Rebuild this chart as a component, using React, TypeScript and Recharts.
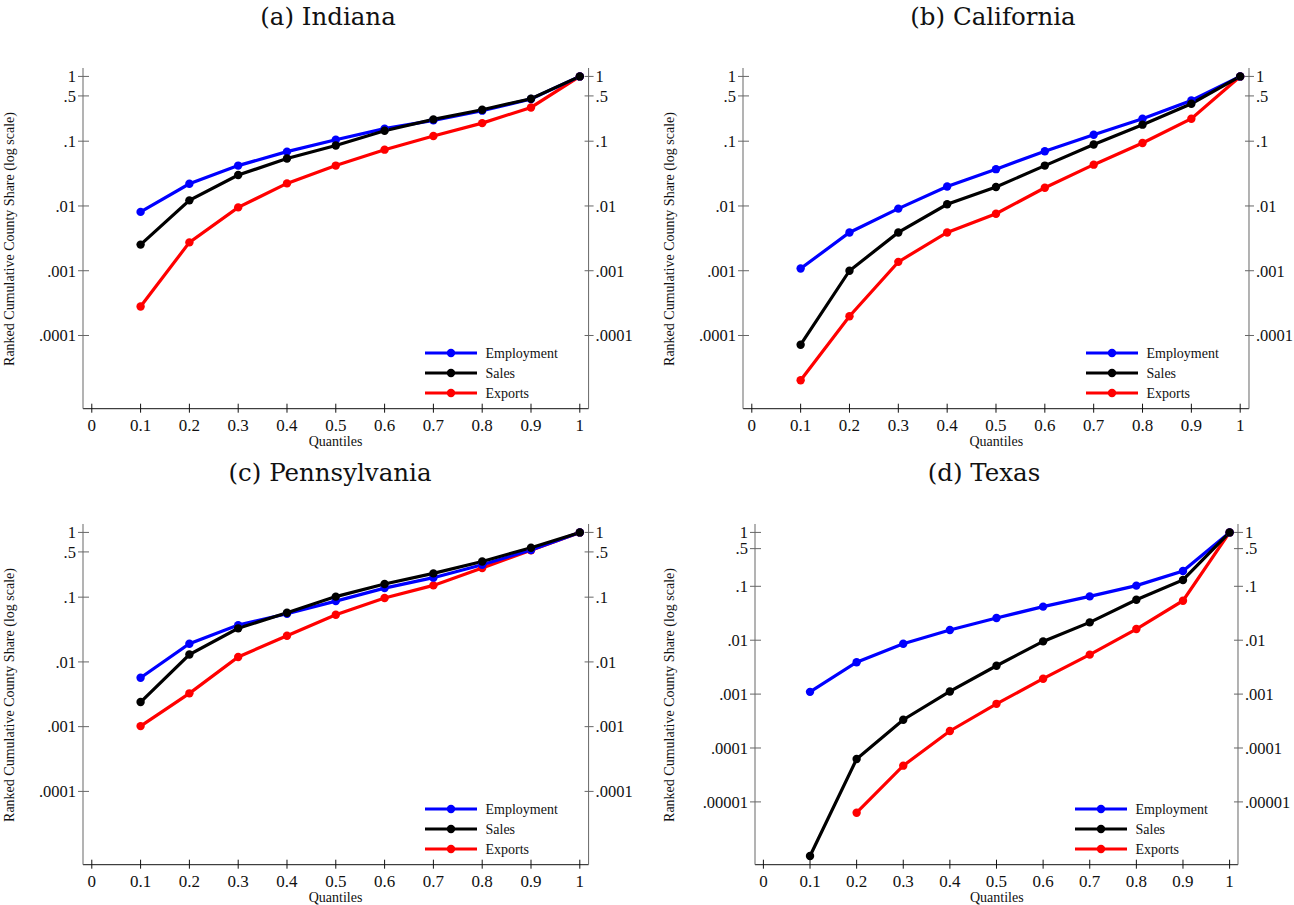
import React from "react";
import { LineChart, Line, XAxis, YAxis, Legend } from "recharts";

// quantile positions and axis ticks
const QUANTILES = [0.1, 0.2, 0.3, 0.4, 0.5, 0.6, 0.7, 0.8, 0.9, 1];
const X_TICKS = [0, 0.1, 0.2, 0.3, 0.4, 0.5, 0.6, 0.7, 0.8, 0.9, 1];
const X_TICK_LABELS = ["0", "0.1", "0.2", "0.3", "0.4", "0.5", "0.6", "0.7", "0.8", "0.9", "1"];
const Y_TICKS = [1, 0.5, 0.1, 0.01, 0.001, 0.0001];
const Y_TICK_LABELS = ["1", ".5", ".1", ".01", ".001", ".0001"];
const Y_TICKS_TX = [1, 0.5, 0.1, 0.01, 0.001, 0.0001, 0.00001];
const Y_TICK_LABELS_TX = ["1", ".5", ".1", ".01", ".001", ".0001", ".00001"];

// (a) Indiana
const IN_EMPLOYMENT = [0.0081, 0.022, 0.042, 0.069, 0.105, 0.156, 0.21, 0.296, 0.448, 1];
const IN_SALES = [0.00253, 0.0122, 0.03, 0.054, 0.086, 0.145, 0.217, 0.306, 0.453, 1];
const IN_EXPORTS = [0.00028, 0.00274, 0.0095, 0.0223, 0.042, 0.074, 0.12, 0.19, 0.332, 1];

// (b) California
const CA_EMPLOYMENT = [0.00108, 0.0039, 0.0091, 0.02, 0.037, 0.07, 0.126, 0.222, 0.426, 1];
const CA_SALES = [0.000072, 0.001, 0.0039, 0.0106, 0.0196, 0.042, 0.089, 0.18, 0.379, 1];
const CA_EXPORTS = [0.0000204, 0.000198, 0.00137, 0.0039, 0.0076, 0.0191, 0.0434, 0.094, 0.222, 1];

// (c) Pennsylvania
const PA_EMPLOYMENT = [0.0057, 0.0191, 0.037, 0.0555, 0.087, 0.138, 0.2, 0.317, 0.535, 1];
const PA_SALES = [0.0024, 0.013, 0.033, 0.0575, 0.102, 0.16, 0.233, 0.356, 0.58, 1];
const PA_EXPORTS = [0.00102, 0.00327, 0.0119, 0.0254, 0.0536, 0.097, 0.152, 0.282, 0.53, 1];

// (d) Texas
const TX_EMPLOYMENT = [0.0011, 0.0039, 0.0086, 0.0155, 0.0258, 0.042, 0.065, 0.103, 0.192, 1];
const TX_SALES = [0.00000099, 0.0000625, 0.000335, 0.00112, 0.00336, 0.0095, 0.0214, 0.0564, 0.131, 1];
const TX_EXPORTS = [null, 0.0000063, 0.000047, 0.000207, 0.00066, 0.00193, 0.0054, 0.0161, 0.054, 1];

const SERIES = [
  { key: "employment", name: "Employment", color: "#0000ff" },
  { key: "sales", name: "Sales", color: "#000000" },
  { key: "exports", name: "Exports", color: "#ff0000" },
];
const DRAW_ORDER = ["exports", "employment", "sales"];

const FONT = "'Liberation Serif', 'Times New Roman', serif";
const TITLE_FONT = "'DejaVu Serif', serif";
const Y_AXIS_COLOR = "#666";
const X_AXIS_COLOR = "#111";

const LW = 80;
const RW = 60;
const MT = 10;
const XH = 40;

function buildRows(emp: (number | null)[], sales: (number | null)[], exp: (number | null)[]) {
  return QUANTILES.map((q, i) => ({ q, employment: emp[i], sales: sales[i], exports: exp[i] }));
}

function labelFor(value: number, ticks: number[], labels: string[]) {
  const i = ticks.findIndex((t) => Math.abs(t - value) / t < 1e-6);
  return i >= 0 ? labels[i] : "";
}

const LeftTick = (props: any) => {
  const { x, y, payload, ticks, labels } = props;
  return (
    <g>
      <line x1={x - 5} x2={x + 6} y1={y} y2={y} stroke={Y_AXIS_COLOR} strokeWidth={1} />
      <text x={x - 7} y={y} dy="0.35em" textAnchor="end" fontSize={16.5} fontFamily={FONT} fill="#111">
        {labelFor(payload.value, ticks, labels)}
      </text>
    </g>
  );
};

const RightTick = (props: any) => {
  const { x, y, payload, ticks, labels } = props;
  return (
    <g>
      <line x1={x - 4} x2={x + 5} y1={y} y2={y} stroke={Y_AXIS_COLOR} strokeWidth={1} />
      <text x={x + 7} y={y} dy="0.35em" textAnchor="start" fontSize={16.5} fontFamily={FONT} fill="#111">
        {labelFor(payload.value, ticks, labels)}
      </text>
    </g>
  );
};

const BottomTick = (props: any) => {
  const { x, y, payload } = props;
  const i = X_TICKS.findIndex((t) => Math.abs(t - payload.value) < 1e-6);
  return (
    <g>
      <line x1={x} x2={x} y1={y - 5} y2={y + 4} stroke={X_AXIS_COLOR} strokeWidth={1} />
      <text x={x} y={y + 16} dy="0.35em" textAnchor="middle" fontSize={17} fontFamily={FONT} fill="#111">
        {i >= 0 ? X_TICK_LABELS[i] : ""}
      </text>
    </g>
  );
};

const LegendBox = () => (
  <svg width={170} height={62} style={{ display: "block" }}>
    {SERIES.map((s, i) => {
      const cy = 10 + i * 20;
      return (
        <g key={s.key}>
          <line x1={0} x2={52} y1={cy} y2={cy} stroke={s.color} strokeWidth={3.2} />
          <circle cx={26} cy={cy} r={4.2} fill={s.color} />
          <text x={60.5} y={cy} dy="0.35em" fontSize={14} fontFamily={FONT} fill="#111">
            {s.name}
          </text>
        </g>
      );
    })}
  </svg>
);

type Box = { l: number; r: number; t: number; b: number };

function Panel({
  rows,
  box,
  yTicks,
  yLabels,
  yExp,
  title,
  titleX,
  titleY,
  yLabelX,
}: {
  rows: any[];
  box: Box;
  yTicks: number[];
  yLabels: string[];
  yExp: [number, number];
  title: string;
  titleX: number;
  titleY: number;
  yLabelX: number;
}) {
  const { l, r, t, b } = box;
  const width = r - l + LW + RW;
  const height = b - t + MT + XH;
  const yDomain = [Math.pow(10, yExp[0]), Math.pow(10, yExp[1])];
  return (
    <>
      <div
        style={{
          position: "absolute",
          left: titleX,
          top: titleY,
          transform: "translate(-50%, -50%)",
          fontFamily: TITLE_FONT,
          fontSize: 24.5,
          whiteSpace: "nowrap",
          color: "#111",
        }}
      >
        {title}
      </div>
      <div
        style={{
          position: "absolute",
          left: yLabelX,
          top: (t + b) / 2,
          transform: "translate(-50%, -50%) rotate(-90deg)",
          fontFamily: FONT,
          fontSize: 14,
          whiteSpace: "nowrap",
          color: "#111",
        }}
      >
        Ranked Cumulative County Share (log scale)
      </div>
      <div
        style={{
          position: "absolute",
          left: (l + r) / 2,
          top: b + 33,
          transform: "translate(-50%, -50%)",
          fontFamily: FONT,
          fontSize: 14,
          whiteSpace: "nowrap",
          color: "#111",
        }}
      >
        Quantiles
      </div>
      <div style={{ position: "absolute", left: l - LW, top: t - MT }}>
        <LineChart width={width} height={height} data={rows} margin={{ top: MT, right: 0, bottom: 0, left: 0 }}>
          <XAxis
            dataKey="q"
            type="number"
            domain={[-0.018, 1.018]}
            ticks={X_TICKS}
            allowDataOverflow
            height={XH}
            tickSize={0}
            tickMargin={0}
            tickLine={false}
            axisLine={{ stroke: X_AXIS_COLOR, strokeWidth: 1 }}
            tick={(p: any) => <BottomTick {...p} />}
            interval={0}
          />
          <YAxis
            yAxisId="left"
            orientation="left"
            type="number"
            scale="log"
            domain={yDomain}
            ticks={yTicks}
            allowDataOverflow
            width={LW}
            tickSize={0}
            tickMargin={0}
            tickLine={false}
            axisLine={{ stroke: Y_AXIS_COLOR, strokeWidth: 1 }}
            tick={(p: any) => <LeftTick {...p} ticks={yTicks} labels={yLabels} />}
            interval={0}
          />
          <YAxis
            yAxisId="right"
            orientation="right"
            type="number"
            scale="log"
            domain={yDomain}
            ticks={yTicks}
            allowDataOverflow
            width={RW}
            tickSize={0}
            tickMargin={0}
            tickLine={false}
            axisLine={{ stroke: Y_AXIS_COLOR, strokeWidth: 1 }}
            tick={(p: any) => <RightTick {...p} ticks={yTicks} labels={yLabels} />}
            interval={0}
          />
          {DRAW_ORDER.map((k) => {
            const s = SERIES.find((x) => x.key === k)!;
            return (
              <Line
                key={s.key}
                yAxisId="left"
                type="linear"
                dataKey={s.key}
                name={s.name}
                stroke={s.color}
                strokeWidth={3.2}
                dot={{ r: 4.2, fill: s.color, stroke: "none", strokeWidth: 0 }}
                activeDot={false}
                connectNulls={false}
                isAnimationActive={false}
              />
            );
          })}
          <Legend
            layout="vertical"
            align="center"
            verticalAlign="middle"
            wrapperStyle={{
              left: r - 163 - (l - LW),
              top: b - 66 - (t - MT),
              width: 170,
              height: 62,
            }}
            content={() => <LegendBox />}
          />
        </LineChart>
      </div>
    </>
  );
}

const INDIANA = buildRows(IN_EMPLOYMENT, IN_SALES, IN_EXPORTS);
const CALIFORNIA = buildRows(CA_EMPLOYMENT, CA_SALES, CA_EXPORTS);
const PENNSYLVANIA = buildRows(PA_EMPLOYMENT, PA_SALES, PA_EXPORTS);
const TEXAS = buildRows(TX_EMPLOYMENT, TX_SALES, TX_EXPORTS);

export default function App() {
  return (
    <div
      style={{
        position: "absolute",
        left: 0,
        top: 0,
        width: 1294,
        height: 905,
        background: "#fff",
        fontFamily: FONT,
        overflow: "hidden",
      }}
    >
      <Panel
        rows={INDIANA}
        box={{ l: 82.7, r: 588.3, t: 68.3, b: 409 }}
        yTicks={Y_TICKS}
        yLabels={Y_TICK_LABELS}
        yExp={[-5.13, 0.13]}
        title="(a) Indiana"
        titleX={328}
        titleY={16}
        yLabelX={9.5}
      />
      <Panel
        rows={CALIFORNIA}
        box={{ l: 743.3, r: 1249.3, t: 68.3, b: 409 }}
        yTicks={Y_TICKS}
        yLabels={Y_TICK_LABELS}
        yExp={[-5.13, 0.13]}
        title="(b) California"
        titleX={993}
        titleY={16}
        yLabelX={670}
      />
      <Panel
        rows={PENNSYLVANIA}
        box={{ l: 82.7, r: 588.3, t: 524.3, b: 865 }}
        yTicks={Y_TICKS}
        yLabels={Y_TICK_LABELS}
        yExp={[-5.132, 0.13]}
        title="(c) Pennsylvania"
        titleX={330}
        titleY={472}
        yLabelX={9.5}
      />
      <Panel
        rows={TEXAS}
        box={{ l: 755.3, r: 1238.3, t: 524.3, b: 865 }}
        yTicks={Y_TICKS_TX}
        yLabels={Y_TICK_LABELS_TX}
        yExp={[-6.165, 0.156]}
        title="(d) Texas"
        titleX={984}
        titleY={472}
        yLabelX={670}
      />
    </div>
  );
}
